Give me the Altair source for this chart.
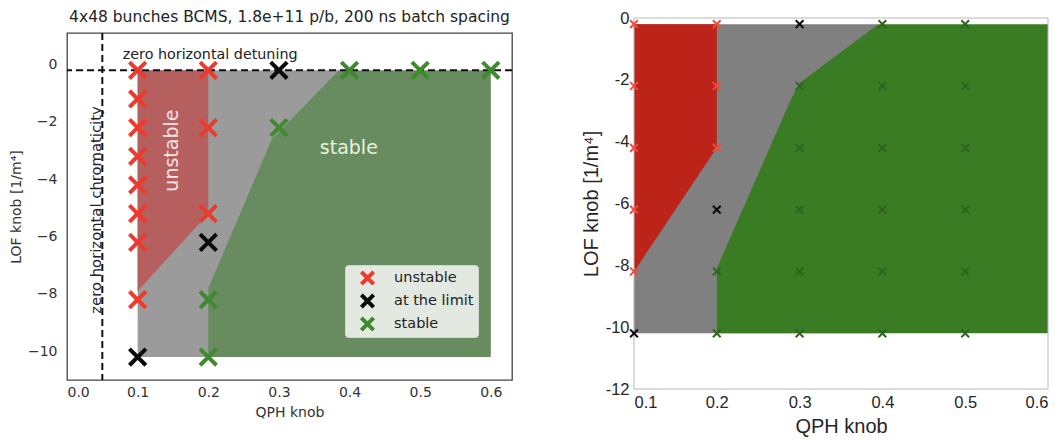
import altair as alt
import pandas as pd

# ---------------- data: left panel ----------------
status_names = ["unstable", "at the limit", "stable"]

left_x = [0.1] * 9 + [0.2] * 6 + [0.3] * 2 + [0.4, 0.5, 0.6]
left_y = [-0.2, -1.2, -2.2, -3.2, -4.2, -5.2, -6.2, -8.2, -10.2,
          -0.2, -2.2, -5.2, -6.2, -8.2, -10.2,
          -0.2, -2.2,
          -0.2, -0.2, -0.2]
left_status = (["unstable"] * 8 + ["at the limit"]
               + ["unstable"] * 3 + ["at the limit"] + ["stable"] * 2
               + ["at the limit", "stable"]
               + ["stable"] * 3)

# region boundaries (left)
left_grey_x = [0.1, 0.385]
left_grey_top = [-0.2, -0.2]
left_grey_bot = [-10.2, -10.2]
left_red_x = [0.1, 0.2]
left_red_top = [-0.2, -0.2]
left_red_bot = [-7.9, -5.2]
left_green_x = [0.2, 0.29, 0.31, 0.385, 0.6]
left_green_top = [-7.8, -2.6, -2.1, -0.2, -0.2]
left_green_bot = [-10.2, -10.2, -10.2, -10.2, -10.2]

# ---------------- data: right panel ----------------
right_x = [0.1] * 6 + [0.2] * 6 + [0.3] * 6 + [0.4] * 6 + [0.5] * 6
right_y = [-0.2, -2.2, -4.2, -6.2, -8.2, -10.2] * 5
right_status = (["unstable"] * 5 + ["at the limit"]
                + ["unstable"] * 3 + ["at the limit"] + ["stable"] * 2
                + ["at the limit"] + ["stable"] * 5
                + ["stable"] * 6
                + ["stable"] * 6)

right_grey_x = [0.1, 0.395]
right_grey_top = [-0.2, -0.2]
right_grey_bot = [-10.2, -10.2]
right_red_x = [0.1, 0.2]
right_red_top = [-0.2, -0.2]
right_red_bot = [-8.2, -4.2]
right_green_x = [0.2, 0.29, 0.3, 0.395, 0.6]
right_green_top = [-8.1, -2.6, -2.1, -0.2, -0.2]
right_green_bot = [-10.2, -10.2, -10.2, -10.2, -10.2]

XPATH = "M-1,-1L1,1M-1,1L1,-1"

# ---------------- left panel ----------------
LF = "DejaVu Sans"
lx_scale = alt.Scale(domain=[0, 0.63], nice=False, zero=False)
ly_scale = alt.Scale(domain=[-11, 1.1], nice=False, zero=False)

lx_axis = alt.Axis(title="QPH knob", values=[0, 0.1, 0.2, 0.3, 0.4, 0.5, 0.6], format=".1f",
                   grid=False, ticks=False, domain=False, labelPadding=5, titlePadding=6,
                   labelFont=LF, titleFont=LF, labelFontSize=14, titleFontSize=14,
                   titleFontWeight="normal", labelColor="#333", titleColor="#333")
ly_axis = alt.Axis(title="LOF knob [1/m⁴]", values=[-10, -8, -6, -4, -2, 0], format="d",
                   grid=False, ticks=False, domain=False, labelPadding=10, titlePadding=4,
                   labelFont=LF, titleFont=LF, labelFontSize=14, titleFontSize=14,
                   titleFontWeight="normal", labelColor="#333", titleColor="#333")


def area(xs, tops, bots, color, xs_scale, ys_scale):
    df = pd.DataFrame({"x": xs, "y": tops, "y2": bots})
    return alt.Chart(df).mark_area(color=color, opacity=1).encode(
        x=alt.X("x:Q", scale=xs_scale),
        y=alt.Y("y:Q", scale=ys_scale),
        y2="y2:Q",
    )


l_grey = area(left_grey_x, left_grey_top, left_grey_bot, "#9b9b9b", lx_scale, ly_scale)
l_red = area(left_red_x, left_red_top, left_red_bot, "#b55f5f", lx_scale, ly_scale)
l_green = area(left_green_x, left_green_top, left_green_bot, "#688c60", lx_scale, ly_scale)

l_vrule = alt.Chart(pd.DataFrame({"x": [0.05]})).mark_rule(
    color="#111", strokeDash=[7, 4], strokeWidth=2).encode(x=alt.X("x:Q", scale=lx_scale))
l_hrule = alt.Chart(pd.DataFrame({"y": [-0.2]})).mark_rule(
    color="#111", strokeDash=[7, 4], strokeWidth=2).encode(y=alt.Y("y:Q", scale=ly_scale))

l_txt1 = alt.Chart(pd.DataFrame({"x": [0.079], "y": [0.32], "t": ["zero horizontal detuning"]})).mark_text(
    font=LF, fontSize=14.3, color="#222", align="left", baseline="middle").encode(
    x=alt.X("x:Q", scale=lx_scale), y=alt.Y("y:Q", scale=ly_scale), text="t:N")

l_txt2 = alt.Chart(pd.DataFrame({"x": [0.042], "y": [-5.07], "t": ["zero horizontal chromaticity"]})).mark_text(
    font=LF, fontSize=14.8, color="#222", align="center", baseline="middle", angle=270).encode(
    x=alt.X("x:Q", scale=lx_scale), y=alt.Y("y:Q", scale=ly_scale), text="t:N")

l_txt3 = alt.Chart(pd.DataFrame({"x": [0.149], "y": [-3.0], "t": ["unstable"]})).mark_text(
    font=LF, fontSize=19, color="#f7e4e4", align="center", baseline="middle", angle=270).encode(
    x=alt.X("x:Q", scale=lx_scale), y=alt.Y("y:Q", scale=ly_scale), text="t:N")

l_txt4 = alt.Chart(pd.DataFrame({"x": [0.399], "y": [-2.9], "t": ["stable"]})).mark_text(
    font=LF, fontSize=19, color="#e8f2de", align="center", baseline="middle").encode(
    x=alt.X("x:Q", scale=lx_scale), y=alt.Y("y:Q", scale=ly_scale), text="t:N")

left_df = pd.DataFrame({"x": left_x, "y": left_y, "status": left_status})
l_points = alt.Chart(left_df).mark_point(
    shape=XPATH, filled=False, size=270, strokeWidth=4, opacity=1).encode(
    x=alt.X("x:Q", scale=lx_scale, axis=lx_axis),
    y=alt.Y("y:Q", scale=ly_scale, axis=ly_axis),
    color=alt.Color("status:N",
                    scale=alt.Scale(domain=status_names, range=["#ec3b2e", "#0a0a0a", "#3f8a2c"]),
                    legend=alt.Legend(orient="none", legendX=278, legendY=232, title=None,
                                      fillColor="#e3e8e1", strokeColor="#d2d7d0", cornerRadius=3,
                                      padding=4, rowPadding=5, clipHeight=18, labelOffset=18,
                                      symbolOffset=10,
                                      labelFont=LF, labelFontSize=14.5, labelColor="#222",
                                      symbolType=XPATH, symbolSize=150, symbolStrokeWidth=4,
                                      symbolOpacity=1)),
)

left = alt.layer(l_grey, l_red, l_green, l_vrule, l_hrule, l_txt1, l_txt2, l_txt3, l_txt4, l_points).properties(
    width=445, height=347,
    title=alt.TitleParams("4x48 bunches BCMS, 1.8e+11 p/b, 200 ns batch spacing",
                          font=LF, fontSize=15.5, fontWeight="normal", color="#222", offset=7),
    view=alt.ViewBackground(stroke="#444", strokeWidth=1.3),
)

# ---------------- right panel ----------------
RF = "Liberation Sans"
R_H = 356          # x-axis sits at the bottom of this height
R_TOP = -15        # plot top raised above the shared row origin
rx_scale = alt.Scale(domain=[0.1, 0.6], nice=False, zero=False)
ry_scale = alt.Scale(domain=[-12, 0], nice=False, zero=False, range=[R_H, R_TOP])

rx_axis = alt.Axis(title="QPH knob", values=[0.1, 0.2, 0.3, 0.4, 0.5, 0.6], format=".1f",
                   grid=False, ticks=False, domain=False, labelPadding=5, titlePadding=6,
                   labelFont=RF, titleFont=RF, labelFontSize=16.5, titleFontSize=20,
                   titleFontWeight="normal", labelColor="#262626", titleColor="#262626")
ry_axis = alt.Axis(title="LOF knob [1/m⁴]", values=[-12, -10, -8, -6, -4, -2, 0],
                   labelExpr="'' + datum.value",
                   grid=False, ticks=False, domain=False, labelPadding=5, titlePadding=4,
                   labelFont=RF, titleFont=RF, labelFontSize=16.5, titleFontSize=20,
                   titleFontWeight="normal", labelColor="#262626", titleColor="#262626")

r_grey = area(right_grey_x, right_grey_top, right_grey_bot, "#808080", rx_scale, ry_scale)
r_red = area(right_red_x, right_red_top, right_red_bot, "#bd2419", rx_scale, ry_scale)
r_green = area(right_green_x, right_green_top, right_green_bot, "#3a7c24", rx_scale, ry_scale)

r_frame = alt.Chart(pd.DataFrame({"a": [0]})).mark_rect(
    fill="transparent", stroke="#b8b8b8", strokeWidth=1).encode(
    x=alt.datum(0.1, scale=rx_scale), x2=alt.datum(0.6),
    y=alt.datum(0, scale=ry_scale), y2=alt.datum(-12))

right_df = pd.DataFrame({"x": right_x, "y": right_y, "status": right_status})
r_points = alt.Chart(right_df).mark_point(
    shape=XPATH, filled=False, size=60, strokeWidth=2, opacity=1).encode(
    x=alt.X("x:Q", scale=rx_scale, axis=rx_axis),
    y=alt.Y("y:Q", scale=ry_scale, axis=ry_axis),
    color=alt.Color("status:N",
                    scale=alt.Scale(domain=status_names, range=["#f04a3e", "#0a0a0a", "#2d6420"]),
                    legend=None),
)

right = alt.layer(r_grey, r_red, r_green, r_frame, r_points).properties(
    width=414, height=R_H,
    view=alt.ViewBackground(stroke="transparent"),
)

chart = alt.concat(left, right, columns=2, spacing=66, align="none").resolve_scale(
    color="independent").resolve_legend(color="independent").properties(
    padding={"left": 0, "top": 0, "right": 0, "bottom": 0}
).configure(background="white")

chart.save("out.html", embed_options={"renderer": "svg", "actions": False})
